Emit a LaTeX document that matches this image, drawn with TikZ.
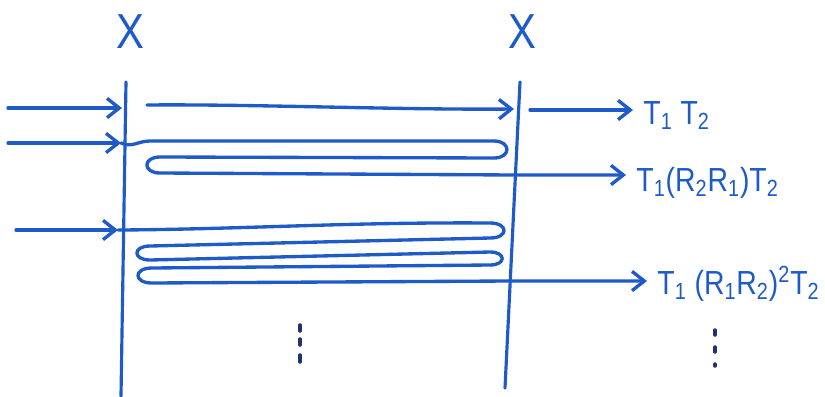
\documentclass[tikz,border=0pt]{standalone}
\usepackage{fontspec}
\usepackage{tikz}
\usetikzlibrary{
  arrows.meta,
  calc
}
\newfontfamily\handfont[FakeStretch=0.85]{Liberation Sans}
\definecolor{ink_blue}{RGB}{30, 90, 200}
\definecolor{dot_ink}{RGB}{30, 50, 110}

\begin{document}
\begin{tikzpicture}[
    % Styles
    x=0.02cm, y=-0.02cm,
    >={Straight Barb[length=7pt,width=11pt]},
    line width=1.9pt,
    % Interfaces and rays
    interface/.style={
        draw=ink_blue,
        line width=1.8pt,
        line cap=round
    },
    ray/.style={
        draw=ink_blue,
        line cap=round,
        line join=round
    },
    ray_arrow/.style={
        ray,
        ->
    },
    % Labels
    hand_lbl/.style={
        text=ink_blue,
        font=\handfont\fontsize{19}{23}\selectfont,
        inner ysep=0pt,
        inner xsep=5pt,
        anchor=base west
    },
    slab_lbl/.style={
        text=ink_blue,
        font=\handfont\fontsize{28}{30}\selectfont,
        inner sep=0pt,
        anchor=base
    },
    dot_mark/.style={
        draw=dot_ink,
        line width=2pt,
        line cap=round
    }
]
\useasboundingbox (0,0) rectangle (825,396);

% --- LAYOUT ---

% 1. The two interfaces X
\coordinate (left_top) at (126,82);
\coordinate (left_bot) at (121,396);
\coordinate (right_top) at (520,82);
\coordinate (right_bot) at (505,388);
\draw[interface] (left_top) -- (left_bot);
\draw[interface] (right_top) -- (right_bot);
\node[slab_lbl] (x_left) at (130,48) {X};
\node[slab_lbl] (x_right) at (522,48) {X};

% 2. Output labels (right)
\node[hand_lbl] (lbl_t12) at (633,124) {T\textsubscript{1} T\textsubscript{2}};
\node[hand_lbl] (lbl_once) at (626,191) {T\textsubscript{1}(R\textsubscript{2}R\textsubscript{1})T\textsubscript{2}};
\node[hand_lbl] (lbl_twice) at (647,294) {T\textsubscript{1} (R\textsubscript{1}R\textsubscript{2})\textsuperscript{2}T\textsubscript{2}};

% --- RAYS ---

% Ray 1: straight through
\coordinate (in_1) at (8,108);
\coordinate (hit_1) at (122,108);
\coordinate (go_1) at (147,105);
\coordinate (back_1) at (514,109);
\coordinate (out_1) at (530,110);
\draw[ray_arrow] (in_1) -- (hit_1);
\draw[ray_arrow] (go_1) .. controls (250,104) and (400,110) .. (back_1);
\draw[ray_arrow] (out_1) -- (out_1 -| lbl_t12.west);

% Ray 2: one round trip
\coordinate (in_2) at (8,143);
\coordinate (hit_2) at (121,143);
\coordinate (exit_2) at (514,175);
\draw[ray_arrow] (in_2) -- (hit_2);
\draw[ray_arrow] (hit_2) .. controls (132,148) and (138,141) .. (150,141)
    -- (494,141) to[out=0,in=0,looseness=2.6] (494,158)
    -- (160,157) to[out=180,in=180,looseness=2.8] (160,173)
    -- (exit_2) -- (exit_2 -| lbl_once.west);

% Ray 3: two round trips
\coordinate (in_3) at (16,230);
\coordinate (hit_3) at (118,230);
\coordinate (exit_3) at (509,281);
\draw[ray_arrow] (in_3) -- (hit_3);
\draw[ray_arrow] (hit_3) -- (121,230) .. controls (250,229) and (350,222) .. (490,223)
    to[out=0,in=0,looseness=3.2] (490,238)
    -- (150,246) to[out=180,in=180,looseness=3.2] (150,260)
    -- (490,252) to[out=0,in=0,looseness=3.2] (490,265)
    -- (152,268) to[out=180,in=180,looseness=3.2] (152,283)
    -- (exit_3) -- (exit_3 -| lbl_twice.west);

% --- ANNOTATIONS ---

% Continuation dots
\foreach \y/\l in {325/6, 339/6, 355/7}
    \draw[dot_mark] (300,\y) -- (300,\y+\l);
\foreach \y/\l in {330/5, 347/5, 364/2}
    \draw[dot_mark] (715,\y) -- (715,\y+\l);

\end{tikzpicture}
\end{document}
